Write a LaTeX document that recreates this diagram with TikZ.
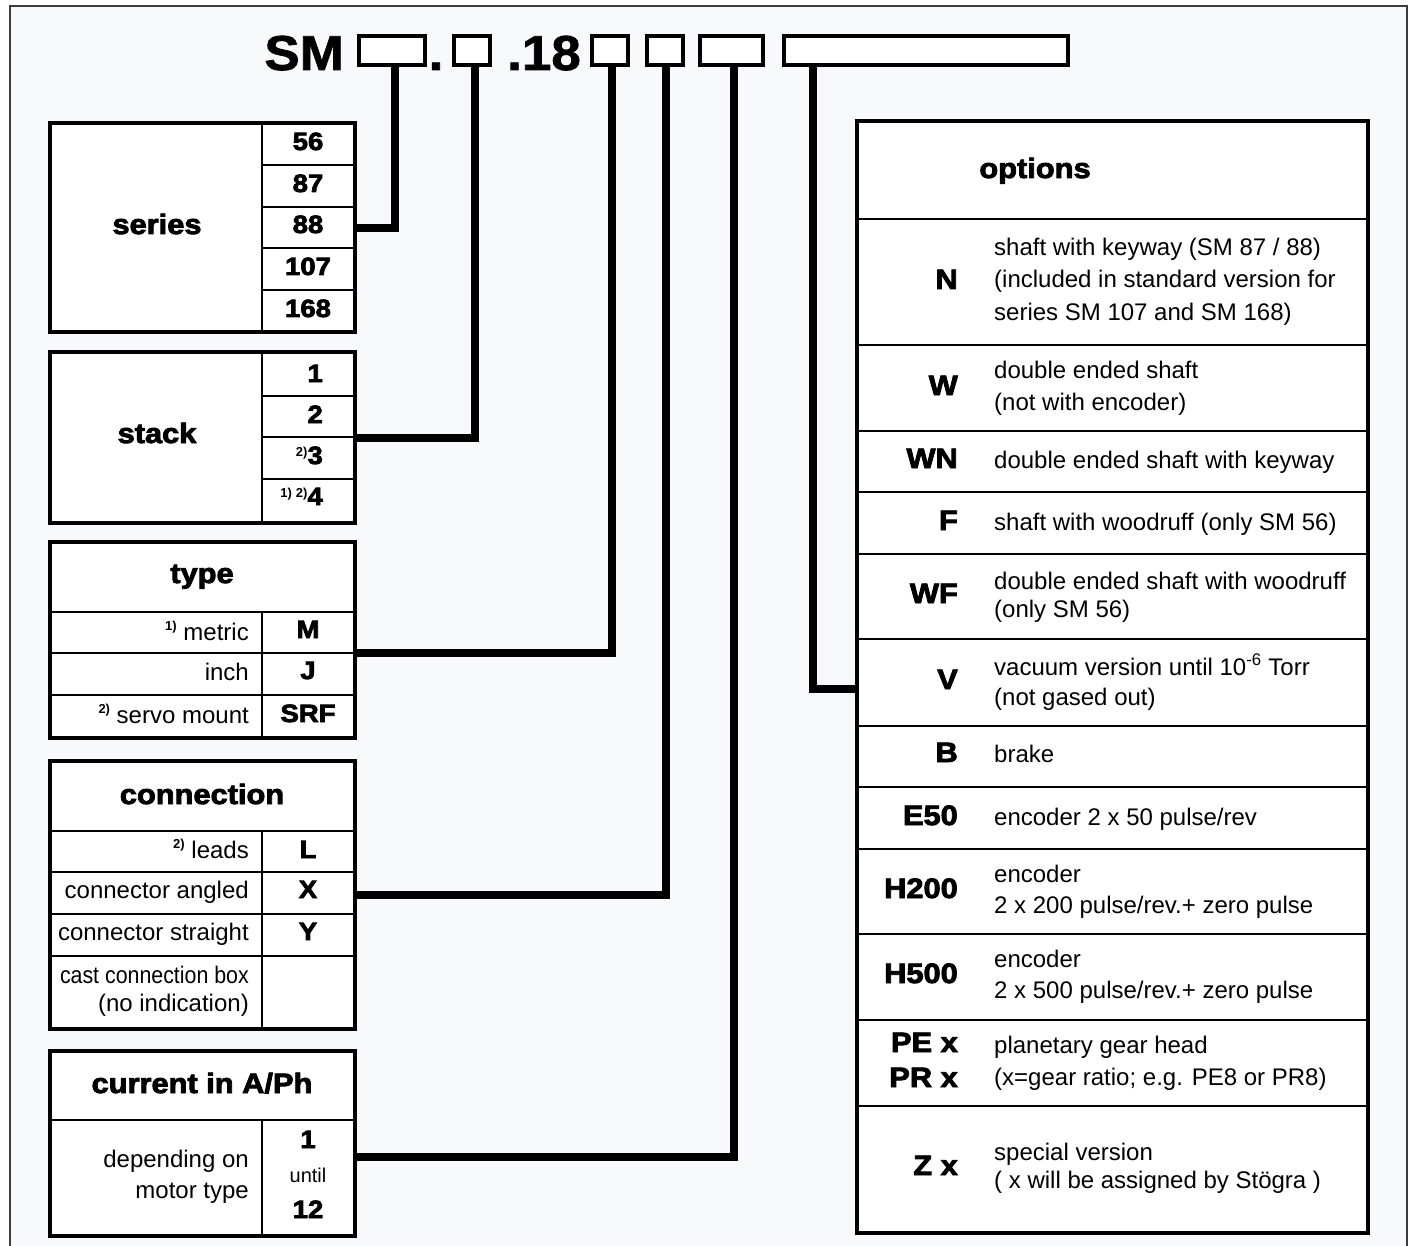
\documentclass[tikz,border=0pt]{standalone}
\usepackage{fontspec}
\setmainfont{Liberation Sans}
\newfontfamily\heavyfont{Liberation Sans Bold}[FakeBold=3,FakeStretch=1.1]
\newfontfamily\bigfont{Liberation Sans Bold}[FakeBold=1.5,FakeStretch=1.08]
\newfontfamily\narrowfont{Liberation Sans}[FakeStretch=0.89]
\definecolor{pagegray}{RGB}{248,249,251}
\definecolor{rimgray}{RGB}{60,60,60}

\newcommand{\ftext}{\normalfont\fontsize{24}{24}\selectfont}
\newcommand{\fsmall}{\normalfont\fontsize{20}{20}\selectfont}
\newcommand{\fhead}{\heavyfont\fontsize{28}{28}\selectfont}
\newcommand{\fcode}{\heavyfont\fontsize{25}{25}\selectfont}
\newcommand{\fopt}{\heavyfont\fontsize{28}{28}\selectfont}
\newcommand{\fbig}{\bigfont\fontsize{49}{49}\selectfont}
\newcommand{\fnote}[2][8pt]{\raisebox{#1}{\normalfont\bfseries\fontsize{13}{13}\selectfont #2}}

\begin{document}
\begin{tikzpicture}[x=1pt,y=-1pt]
			\tikzstyle{every node}+=[inner sep=0pt]
			\tikzstyle{tablebox}=[draw=black, line width=4pt, fill=white, rectangle]
			\tikzstyle{slot}=[tablebox, minimum height=29pt]
			\tikzstyle{cellrule}=[black, line width=1.3pt]
			\tikzstyle{wire}=[black, line width=8pt]
			\tikzstyle{heading}=[font=\fhead, anchor=base]
			\tikzstyle{codelbl}=[font=\fcode, anchor=base]
			\tikzstyle{rowtxt}=[font=\ftext, anchor=base east]
			\tikzstyle{optcode}=[font=\fopt, anchor=base east]
			\tikzstyle{opttxt}=[font=\ftext, anchor=base west]
			\useasboundingbox (0,0) rectangle (1413,1246);
			\fill [white] (0,0) rectangle (1413,1246);
			\fill [pagegray] (10,6) rectangle (1407,1246);
			\draw [rimgray, line width=1.3pt] (10,1246) -- (10,6) -- (1407,6) -- (1407,1246);
			% type code
			\node [font=\fbig, anchor=base east] (sm) at (344,70) {SM};
			\node [slot, minimum width=66pt] (b1) at (392,50.5) {};
			\node [font=\fbig, anchor=base] (dot) at (436,70) {.};
			\node [slot, minimum width=36pt] (b2) at (472,50.5) {};
			\node [font=\fbig, anchor=base east] (d18) at (581,70) {.18};
			\node [slot, minimum width=36pt] (b3) at (610,50.5) {};
			\node [slot, minimum width=36pt] (b4) at (665,50.5) {};
			\node [slot, minimum width=63pt] (b5) at (731.5,50.5) {};
			\node [slot, minimum width=284pt] (b6) at (926,50.5) {};
			% series
			\node [tablebox, minimum width=305pt, minimum height=209pt] (series) at (202,227.5) {};
			\draw [cellrule] (262,123) -- (262,332);
			\draw [cellrule] (262,165) -- (354.5,165);
			\draw [cellrule] (262,207) -- (354.5,207);
			\draw [cellrule] (262,248) -- (354.5,248);
			\draw [cellrule] (262,290) -- (354.5,290);
			\node [heading] (serieslbl) at (157,234) {series};
			\node [codelbl] (s56) at (308,150) {56};
			\node [codelbl] (s87) at (308,192) {87};
			\node [codelbl] (s88) at (308,233) {88};
			\node [codelbl] (s107) at (308,275) {107};
			\node [codelbl] (s168) at (308,317) {168};
			% stack
			\node [tablebox, minimum width=305pt, minimum height=170pt] (stack) at (202,437.5) {};
			\draw [cellrule] (262,352.5) -- (262,522.5);
			\draw [cellrule] (262,396) -- (354.5,396);
			\draw [cellrule] (262,437) -- (354.5,437);
			\draw [cellrule] (262,479) -- (354.5,479);
			\node [heading] (stacklbl) at (157,443) {stack};
			\node [codelbl, anchor=base east] (k1) at (323,382) {1};
			\node [codelbl, anchor=base east] (k2) at (323,423) {2};
			\node [codelbl, anchor=base east] (k3) at (323,464) {\fnote{2)}3};
			\node [codelbl, anchor=base east] (k4) at (323,505) {\fnote{1)}\hspace{4pt}\fnote{2)}4};
			% type
			\node [tablebox, minimum width=305pt, minimum height=196pt] (type) at (202,640) {};
			\draw [cellrule] (49.5,612) -- (354.5,612);
			\draw [cellrule] (49.5,653) -- (354.5,653);
			\draw [cellrule] (49.5,695) -- (354.5,695);
			\draw [cellrule] (262,612) -- (262,738);
			\node [heading] (typelbl) at (202,583) {type};
			\node [rowtxt] (tmetric) at (249,640) {\fnote[10pt]{1)} metric};
			\node [rowtxt] (tinch) at (249,680) {inch};
			\node [rowtxt] (tservo) at (249,723) {\fnote[10pt]{2)} servo mount};
			\node [codelbl] (tm) at (308,638) {M};
			\node [codelbl] (tj) at (308,679) {J};
			\node [codelbl] (tsrf) at (308,722) {SRF};
			% connection
			\node [tablebox, minimum width=305pt, minimum height=268pt] (conn) at (202,895) {};
			\draw [cellrule] (49.5,831) -- (354.5,831);
			\draw [cellrule] (49.5,872) -- (354.5,872);
			\draw [cellrule] (49.5,914) -- (354.5,914);
			\draw [cellrule] (49.5,956) -- (354.5,956);
			\draw [cellrule] (262,831) -- (262,1029);
			\node [heading] (connlbl) at (202,804) {connection};
			\node [rowtxt] (cleads) at (249,858) {\fnote[10pt]{2)} leads};
			\node [rowtxt] (cangled) at (249,898) {connector angled};
			\node [rowtxt] (cstraight) at (249,940) {connector straight};
			\node [rowtxt] (cbox) at (249,983) {\narrowfont cast connection box};
			\node [rowtxt] (cnone) at (249,1011) {(no indication)};
			\node [codelbl] (cl) at (308,858) {L};
			\node [codelbl] (cx) at (308,898) {X};
			\node [codelbl] (cy) at (308,940) {Y};
			% current
			\node [tablebox, minimum width=305pt, minimum height=185pt] (curr) at (202,1143.8) {};
			\draw [cellrule] (49.5,1120) -- (354.5,1120);
			\draw [cellrule] (262,1120) -- (262,1236);
			\node [heading] (currlbl) at (202,1093) {current in A/Ph};
			\node [rowtxt] (idep) at (249,1167) {depending on};
			\node [rowtxt] (imotor) at (249,1198) {motor type};
			\node [codelbl] (ilow) at (308,1148) {1};
			\node [font=\fsmall, anchor=base] (iuntil) at (308,1182) {until};
			\node [codelbl] (ihigh) at (308,1218) {12};
			% options
			\node [tablebox, minimum width=511pt, minimum height=1112pt] (options) at (1112.5,677) {};
			\draw [cellrule] (857,219) -- (1368,219);
			\draw [cellrule] (857,345) -- (1368,345);
			\draw [cellrule] (857,431) -- (1368,431);
			\draw [cellrule] (857,492) -- (1368,492);
			\draw [cellrule] (857,554) -- (1368,554);
			\draw [cellrule] (857,639) -- (1368,639);
			\draw [cellrule] (857,726) -- (1368,726);
			\draw [cellrule] (857,787) -- (1368,787);
			\draw [cellrule] (857,849) -- (1368,849);
			\draw [cellrule] (857,934) -- (1368,934);
			\draw [cellrule] (857,1020) -- (1368,1020);
			\draw [cellrule] (857,1106) -- (1368,1106);
			\node [heading] (optlbl) at (1035,178) {options};
			\node [optcode] (on) at (958,289) {N};
			\node [opttxt] (on1) at (994,256) {shaft with keyway (SM 87 / 88)};
			\node [opttxt] (on2) at (994,288) {(included in standard version for};
			\node [opttxt] (on3) at (994,321) {series SM 107 and SM 168)};
			\node [optcode] (ow) at (958,395) {W};
			\node [opttxt] (ow1) at (994,378) {double ended shaft};
			\node [opttxt] (ow2) at (994,410) {(not with encoder)};
			\node [optcode] (own) at (958,468) {WN};
			\node [opttxt] (own1) at (994,468) {double ended shaft with keyway};
			\node [optcode] (of) at (958,530) {F};
			\node [opttxt] (of1) at (994,530) {shaft with woodruff (only SM 56)};
			\node [optcode] (owf) at (958,603) {WF};
			\node [opttxt] (owf1) at (994,589) {double ended shaft with woodruff};
			\node [opttxt] (owf2) at (994,617) {(only SM 56)};
			\node [optcode] (ov) at (958,689) {V};
			\node [opttxt] (ov1) at (994,675) {vacuum version until 10\textsuperscript{-6} Torr};
			\node [opttxt] (ov2) at (994,705) {(not gased out)};
			\node [optcode] (ob) at (958,762) {B};
			\node [opttxt] (ob1) at (994,762) {brake};
			\node [optcode] (oe) at (958,825) {E50};
			\node [opttxt] (oe1) at (994,825) {encoder 2 x 50 pulse/rev};
			\node [optcode] (oh2) at (958,898) {H200};
			\node [opttxt] (oh21) at (994,882) {encoder};
			\node [opttxt] (oh22) at (994,913) {2 x 200 pulse/rev.+ zero pulse};
			\node [optcode] (oh5) at (958,983) {H500};
			\node [opttxt] (oh51) at (994,967) {encoder};
			\node [opttxt] (oh52) at (994,998) {2 x 500 pulse/rev.+ zero pulse};
			\node [optcode] (ope) at (958,1052) {PE x};
			\node [optcode] (opr) at (958,1087) {PR x};
			\node [opttxt] (op1) at (994,1053) {planetary gear head};
			\node [opttxt] (op2) at (994,1085) {(x=gear ratio; e.g. PE8 or PR8)};
			\node [optcode] (oz) at (958,1175) {Z x};
			\node [opttxt] (oz1) at (994,1160) {special version};
			\node [opttxt] (oz2) at (994,1188) {( x will be assigned by Stögra )};
			% leads from the tables up to the code boxes
			\draw [wire] ([yshift=-1pt]series.east) -| ([xshift=3pt]b1.south);
			\draw [wire] (stack.east) -| ([xshift=3pt]b2.south);
			\draw [wire] ([yshift=-13pt]type.east) -| ([xshift=2pt]b3.south);
			\draw [wire] (conn.east) -| ([xshift=1pt]b4.south);
			\draw [wire] ([yshift=-13.2pt]curr.east) -| ([xshift=2.5pt]b5.south);
			\draw [wire] ([yshift=-12pt]options.west) -| ([xshift=31pt]b6.south west);
\end{tikzpicture}
\end{document}
